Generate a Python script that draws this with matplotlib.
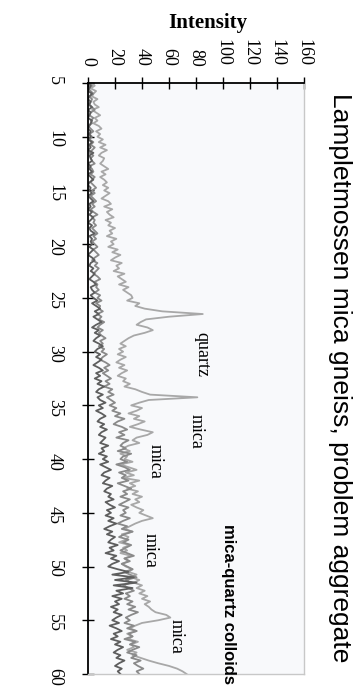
import numpy as np
import matplotlib.pyplot as plt

# XRD scans, 2-theta from 5 to 60 deg in 0.25 deg steps
two_theta = np.arange(5, 60.01, 0.25)

# light grey scan (problem aggregate)
scan_a = [3, 5, 2, 6, 4, 3, 7, 4, 5, 8, 3, 6, 9, 5, 7, 4, 8, 10, 6, 9,
          7, 11, 8, 13, 9, 14, 10, 8, 12, 11, 9, 12, 15, 10, 13, 9, 12, 14, 11, 15,
          12, 16, 13, 10, 15, 17, 12, 18, 14, 16, 19, 13, 17, 15, 20, 16, 18, 14, 21, 17,
          19, 15, 22, 18, 24, 20, 17, 25, 21, 23, 19, 27, 22, 25, 28, 23, 30, 26, 29, 32,
          33, 29, 38, 35, 42, 55, 85, 60, 43, 39, 36, 44, 48, 42, 34, 30, 27, 24, 28, 23,
          26, 22, 28, 24, 21, 27, 23, 29, 25, 22, 28, 26, 31, 27, 35, 40, 46, 81, 45, 38,
          32, 40, 36, 30, 38, 34, 42, 37, 31, 39, 48, 44, 36, 33, 38, 30, 26, 31, 24, 29,
          27, 33, 24, 30, 36, 28, 34, 26, 38, 31, 35, 29, 37, 33, 40, 35, 38, 32, 36, 41,
          38, 43, 48, 40, 35, 31, 27, 33, 25, 30, 28, 23, 31, 26, 29, 24, 32, 27, 30, 25,
          28, 33, 30, 36, 32, 38, 34, 40, 36, 42, 38, 44, 40, 46, 42, 45, 47, 50, 58, 61,
          52, 40, 35, 31, 36, 29, 33, 30, 37, 32, 34, 29, 36, 33, 39, 45, 52, 60, 66, 70,
          73]

# medium grey scan
scan_b = [1, 3, 0, 2, 4, 1, 3, 2, 0, 3, 5, 2, 1, 4, 2, 3, 0, 2, 4, 1,
          3, 1, 4, 2, 5, 3, 1, 4, 2, 3, 5, 1, 3, 4, 2, 5, 3, 2, 4, 6,
          3, 5, 2, 4, 6, 3, 5, 2, 4, 7, 3, 5, 4, 6, 3, 5, 7, 4, 6, 3,
          5, 7, 4, 6, 8, 5, 3, 7, 5, 8, 6, 4, 7, 9, 5, 7, 6, 8, 5, 9,
          7, 10, 6, 9, 8, 11, 7, 10, 8, 12, 9, 7, 11, 8, 10, 13, 9, 11, 8, 12,
          10, 14, 11, 9, 13, 16, 12, 15, 11, 14, 17, 13, 16, 12, 18, 15, 19, 14, 17, 20,
          16, 21, 18, 24, 20, 27, 22, 19, 25, 29, 23, 27, 21, 30, 26, 24, 28, 22, 32, 26,
          24, 29, 21, 27, 31, 23, 28, 25, 30, 22, 27, 32, 26, 29, 24, 31, 27, 23, 30, 26,
          28, 24, 31, 26, 22, 29, 25, 33, 27, 23, 30, 26, 32, 28, 24, 29, 34, 27, 31, 25,
          29, 33, 27, 31, 36, 28, 32, 26, 30, 34, 28, 31, 27, 33, 29, 35, 30, 37, 32, 28,
          31, 27, 34, 29, 36, 30, 33, 27, 35, 31, 38, 33, 29, 36, 32, 39, 34, 37, 41, 36,
          38]

# dark grey scan
scan_c = [0, 2, 1, 0, 3, 1, 0, 2, 1, 3, 0, 2, 1, 0, 3, 2, 1, 0, 2, 1,
          2, 0, 3, 1, 2, 0, 4, 1, 2, 3, 0, 2, 1, 3, 0, 2, 4, 1, 0, 2,
          1, 3, 0, 2, 4, 1, 2, 0, 3, 1, 4, 2, 0, 3, 1, 2, 5, 1, 3, 2,
          3, 1, 4, 2, 0, 3, 5, 2, 1, 4, 2, 5, 3, 1, 4, 6, 2, 3, 5, 2,
          4, 7, 3, 6, 9, 5, 8, 4, 7, 10, 6, 3, 8, 5, 9, 6, 4, 8, 11, 7,
          5, 9, 6, 10, 7, 4, 8, 11, 6, 9, 5, 10, 7, 12, 8, 6, 11, 7, 9, 13,
          8, 11, 6, 10, 13, 9, 7, 12, 9, 14, 10, 8, 13, 11, 9, 15, 10, 12, 8, 14,
          11, 15, 9, 13, 17, 12, 10, 16, 13, 11, 18, 14, 12, 17, 15, 19, 13, 16, 20, 14,
          17, 13, 19, 15, 21, 16, 12, 18, 14, 20, 17, 15, 22, 16, 19, 13, 21, 17, 23, 18,
          15, 22, 30, 18, 34, 20, 36, 19, 33, 21, 26, 18, 25, 20, 23, 17, 22, 19, 25, 21,
          18, 23, 16, 21, 25, 19, 22, 17, 24, 20, 26, 22, 19, 24, 21, 27, 23, 20, 25, 22,
          24]

# peak labels: (text, intensity, 2-theta)
peak_text = ['quartz', 'mica', 'mica', 'mica', 'mica']
peak_int = [84, 80, 50, 46, 65]
peak_2th = [30.3, 37.4, 40.2, 48.5, 56.5]

int_ticks = list(range(0, 161, 20))
th_ticks = list(range(5, 61, 5))

serif = 'Liberation Serif'

fig = plt.figure(figsize=(3.6, 6.89), dpi=100)
ax = fig.add_axes([88 / 360, 15 / 689, 216 / 360, 591 / 689])
ax.set_facecolor('#f8f9fb')

# chart is turned on its side: intensity across, 2-theta down
ax.plot(scan_a, two_theta, color='#a8a8a8', lw=1.3)
ax.plot(scan_b, two_theta, color='#8a8a8a', lw=1.3)
ax.plot(scan_c, two_theta, color='#5e5e5e', lw=1.3)

ax.set_xlim(0, 160)
ax.set_ylim(60, 5)
ax.set_xticks(int_ticks)
ax.set_yticks(th_ticks)
ax.xaxis.tick_top()
ax.tick_params(axis='x', direction='inout', length=8, width=1, pad=8,
               labelrotation=-90, labelsize=13)
ax.tick_params(axis='y', direction='inout', length=8, width=1, pad=14,
               labelrotation=-90, labelsize=13)
for lab in ax.get_xticklabels() + ax.get_yticklabels():
    lab.set_fontfamily(serif)

for side in ['top', 'left']:
    ax.spines[side].set_color('black')
    ax.spines[side].set_linewidth(1.3)
for side in ['right', 'bottom']:
    ax.spines[side].set_color('#c8c8c8')
    ax.spines[side].set_linewidth(1)

for t, xi, yi in zip(peak_text, peak_int, peak_2th):
    ax.text(xi, yi, t, rotation=-90, ha='center', va='center',
            fontsize=13, fontfamily=serif)

fig.text(208 / 360, 1 - 23 / 689, 'Intensity', ha='center', va='center',
         fontsize=15, fontweight='bold', fontfamily=serif)
fig.text(340 / 360, 1 - 378 / 689, 'Lampletmossen mica gneiss, problem aggregate',
         rotation=-90, ha='center', va='center', fontsize=19,
         fontfamily='Liberation Sans')
fig.text(228 / 360, 1 - 604 / 689, 'mica-quartz colloids', rotation=-90,
         ha='center', va='center', fontsize=12, fontweight='bold',
         fontfamily='Liberation Sans')

fig.savefig('out.png', dpi=100)
